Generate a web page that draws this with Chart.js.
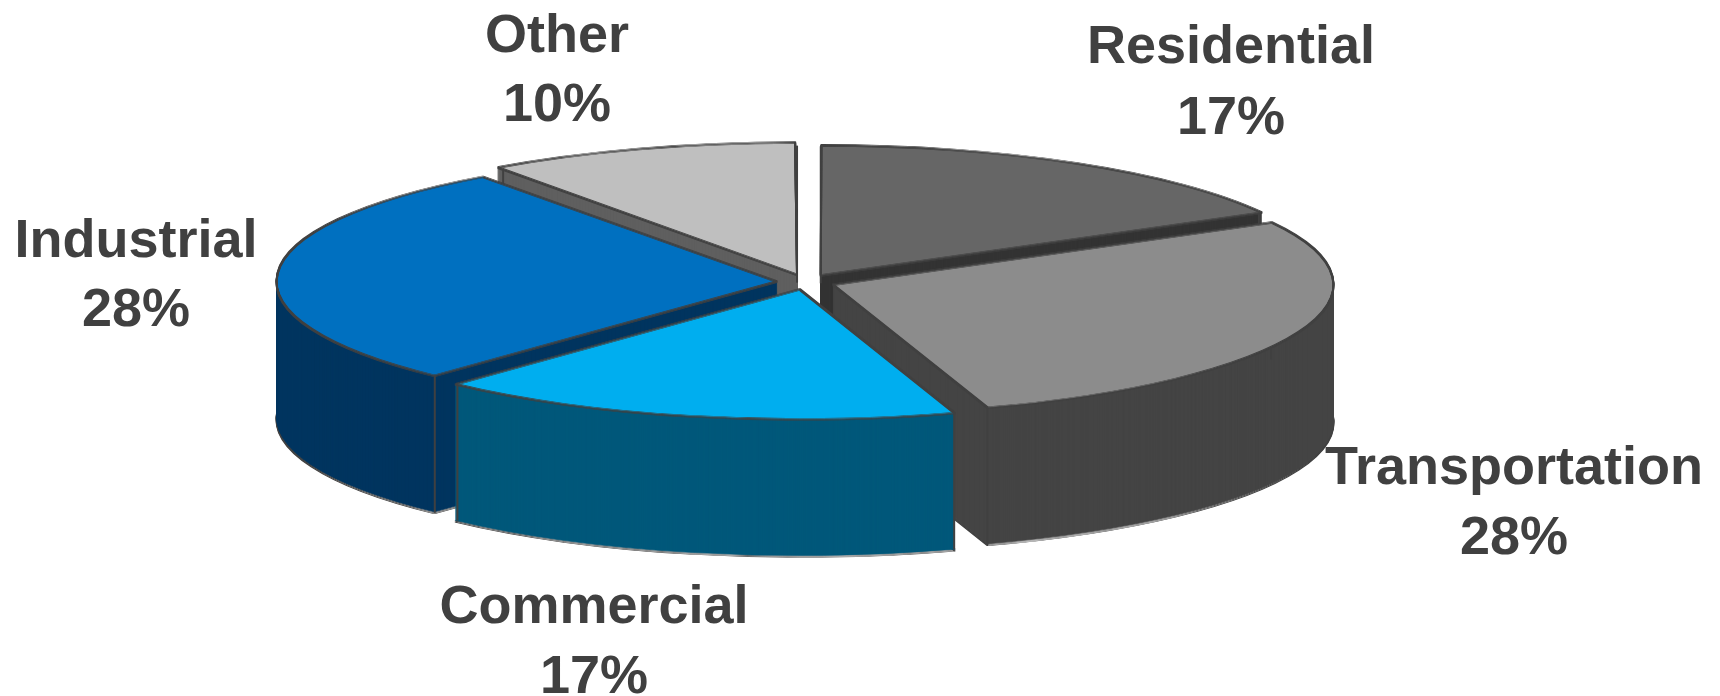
<!DOCTYPE html>
<html>
<head>
<meta charset="utf-8">
<title>Energy use by sector</title>
<script src="https://cdn.jsdelivr.net/npm/chart.js@4"></script>
<style>
  html, body { margin: 0; padding: 0; background: #fff; }
  canvas { display: block; }
</style>
</head>
<body>
<canvas id="pieChart" width="1720" height="696"></canvas>
<script>
const sectors = ['Residential', 'Transportation', 'Commercial', 'Industrial', 'Other'];
const shares = [17, 28, 17, 28, 10];

const topColors = ['#666666', '#8c8c8c', '#00aeef', '#0070c0', '#bfbfbf'];
const sideColors = ['#333333', '#444444', '#00587a', '#00355f', '#5f5f5f'];

// back to front, so nearer slices cover the cut faces behind them
const drawOrder = [4, 0, 3, 1, 2];

// where each label sits: centre x, baseline of the name, baseline of the percent
const labelSpots = [
  [1231, 63, 134],
  [1514, 484, 554],
  [594, 623, 693],
  [136, 257, 326],
  [557, 52, 121]
];

const squash = 0.2585; // flattens the circle to an ellipse
const depth = 137;     // height of the slab
const edgeColor = '#404040';

function withArcOptions(arc, changes, fn) {
  const saved = arc.options;
  arc.options = Object.assign({}, saved, changes);
  fn();
  arc.options = saved;
}

const pie3d = {
  id: 'pie3d',
  beforeDatasetsDraw(chart) {
    const ctx = chart.ctx;
    const arcs = chart.getDatasetMeta(0).data;

    const placed = (arc, drop, fn) => {
      ctx.save();
      ctx.translate(arc.x, arc.y + drop);
      ctx.scale(1, squash);
      ctx.translate(-arc.x, -arc.y);
      fn();
      ctx.restore();
    };

    // squashing thins the flat parts of the outline, so stroke them a few times
    const outline = (arc, drop) => {
      withArcOptions(arc, { backgroundColor: 'transparent' }, () => {
        [-1, 0, 1].forEach(nudge => placed(arc, drop + nudge, () => arc.draw(ctx)));
      });
    };

    // screen position of a rim point of an exploded slice
    const rimPoint = (arc, angle) => {
      const shift = arc.options.offset / 4;
      const half = (arc.startAngle + arc.endAngle) / 2;
      return {
        x: arc.x + Math.cos(half) * shift + Math.cos(angle) * arc.outerRadius,
        y: arc.y + (Math.sin(half) * shift + Math.sin(angle) * arc.outerRadius) * squash
      };
    };

    drawOrder.forEach(i => {
      const arc = arcs[i];

      // bottom outline first, then the walls stacked on top of it
      outline(arc, depth);
      withArcOptions(arc, { backgroundColor: sideColors[i], borderColor: sideColors[i], borderWidth: 1 }, () => {
        for (let d = depth - 1; d > 0; d--) {
          placed(arc, d, () => arc.draw(ctx));
        }
      });

      // vertical edges at the two rim corners
      ctx.save();
      ctx.strokeStyle = edgeColor;
      ctx.lineWidth = 2;
      [arc.startAngle, arc.endAngle].forEach(angle => {
        const p = rimPoint(arc, angle);
        ctx.beginPath();
        ctx.moveTo(p.x, p.y);
        ctx.lineTo(p.x, p.y + depth);
        ctx.stroke();
      });
      ctx.restore();

      placed(arc, 0, () => arc.draw(ctx));
      outline(arc, 0);
    });

    // name and percent labels
    ctx.save();
    ctx.fillStyle = edgeColor;
    ctx.font = 'bold 54px "Liberation Sans", Arial, sans-serif';
    ctx.textAlign = 'center';
    ctx.textBaseline = 'alphabetic';
    sectors.forEach((name, i) => {
      const [x, nameY, pctY] = labelSpots[i];
      ctx.fillText(name, x, nameY);
      ctx.fillText(shares[i] + '%', x, pctY);
    });
    ctx.restore();

    return false; // the slices are already painted
  }
};

new Chart(document.getElementById('pieChart').getContext('2d'), {
  type: 'pie',
  data: {
    labels: sectors,
    datasets: [{
      data: shares,
      backgroundColor: topColors,
      borderColor: edgeColor,
      borderWidth: 2,
      offset: 116
    }]
  },
  plugins: [pie3d],
  options: {
    responsive: false,
    animation: false,
    radius: 500,
    layout: { padding: { right: 108, bottom: 132 } },
    plugins: {
      legend: { display: false },
      tooltip: { enabled: false }
    }
  }
});
</script>
</body>
</html>
